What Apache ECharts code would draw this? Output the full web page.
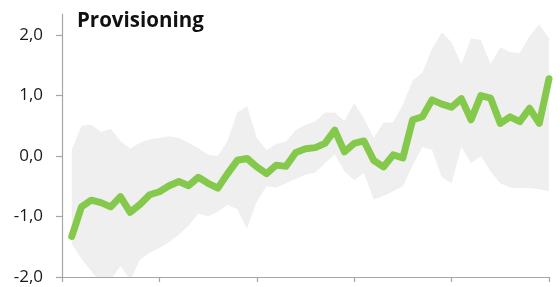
<!DOCTYPE html>
<html>
<head>
<meta charset="utf-8">
<script src="https://cdn.jsdelivr.net/npm/echarts@6/dist/echarts.min.js"></script>
<style>
html,body{margin:0;padding:0;background:#fff;}
#chart{width:560px;height:287px;}
</style>
</head>
<body>
<div id="chart"></div>
<script>
var title = "Provisioning";
var yTicks = [-2, -1, 0, 1, 2];
var xTicks = [0, 10, 20, 30, 40, 50];
var mainLine = [-1.33,-0.84,-0.73,-0.77,-0.84,-0.67,-0.93,-0.80,-0.64,-0.59,
                -0.49,-0.42,-0.49,-0.35,-0.45,-0.53,-0.29,-0.07,-0.04,-0.18,
                -0.29,-0.15,-0.17,0.06,0.12,0.14,0.21,0.43,0.07,0.21,
                0.25,-0.07,-0.18,0.02,-0.03,0.60,0.65,0.93,0.86,0.81,
                0.95,0.60,1.00,0.96,0.54,0.65,0.57,0.79,0.54,1.28];
var bandUpper = [0.10,0.50,0.52,0.40,0.45,0.25,0.12,0.22,0.28,0.30,
                 0.33,0.30,0.22,0.13,0.02,0.00,0.25,0.72,0.83,0.30,
                 0.10,0.20,0.24,0.43,0.52,0.57,0.72,0.72,0.58,0.88,
                 0.62,0.30,0.55,0.56,0.85,1.25,1.38,1.78,2.05,1.88,
                 1.52,1.95,1.92,1.52,1.80,1.72,1.70,1.98,2.18,1.95];
var bandLower = [-1.45,-1.70,-1.90,-2.10,-2.05,-1.82,-2.05,-1.72,-1.60,-1.52,
                 -1.42,-1.30,-1.15,-0.95,-1.00,-0.92,-0.81,-0.88,-1.20,-0.75,
                 -0.50,-0.52,-0.45,-0.38,-0.31,-0.27,-0.12,0.03,-0.25,-0.40,
                 -0.28,-0.72,-0.66,-0.58,-0.50,-0.15,0.15,0.10,-0.35,-0.45,
                 0.15,-0.12,0.00,-0.25,-0.45,-0.52,-0.53,-0.53,-0.55,-0.58];

var lineData = mainLine.map(function(v,i){return [i+1, v];});
var bandData = bandUpper.map(function(v,i){return [i+1, v, bandLower[i]];});

var chart = echarts.init(document.getElementById('chart'), null, {renderer:'canvas'});
var axisColor = '#a6a6a6';
chart.setOption({
  animation: false,
  backgroundColor: '#ffffff',
  title: {
    text: title, left: 72, top: 6,
    textStyle: {fontFamily: 'Open Sans', fontWeight: 'bold', fontSize: 20.5, color: '#111'}
  },
  grid: {left: 62, right: 11, top: 14, bottom: 10, containLabel: false},
  xAxis: {
    type: 'value', min: 0, max: 50, interval: 10,
    axisLine: {show: true, onZero: false, lineStyle: {color: axisColor, width: 1.2}},
    axisTick: {show: true, length: 5, lineStyle: {color: axisColor, width: 1.2}, customValues: xTicks},
    axisLabel: {show: false},
    splitLine: {show: false}
  },
  yAxis: {
    type: 'value', min: -2, max: 2.35, interval: 1,
    axisLine: {show: true, onZero: false, lineStyle: {color: axisColor, width: 1.2}},
    axisTick: {show: true, length: 6, lineStyle: {color: axisColor, width: 1.2}, customValues: yTicks},
    axisLabel: {
      customValues: yTicks,
      margin: 19, fontFamily: 'Open Sans', fontSize: 17, color: '#1a1a1a',
      formatter: function(v){ return v.toFixed(1).replace('.', ','); }
    },
    splitLine: {show: false}
  },
  series: [
    {
      type: 'custom', data: bandData, clip: true, silent: true, z: 1,
      encode: {x: 0, y: [1, 2]},
      renderItem: function(params, api){
        if (params.dataIndex !== 0) return null;
        var pts = [];
        var i;
        for (i = 0; i < bandData.length; i++) pts.push(api.coord([bandData[i][0], bandData[i][1]]));
        for (i = bandData.length - 1; i >= 0; i--) pts.push(api.coord([bandData[i][0], bandData[i][2]]));
        return {
          type: 'polygon',
          shape: {points: pts},
          style: {fill: '#efefef', stroke: null},
          clipPath: {type: 'rect', shape: {x: params.coordSys.x, y: params.coordSys.y, width: params.coordSys.width, height: params.coordSys.height}}
        };
      }
    },
    {type: 'line', data: lineData, symbol: 'none',
     lineStyle: {color: '#84c94b', width: 7, join: 'round', cap: 'round'}, z: 3}
  ]
});
</script>
</body>
</html>
